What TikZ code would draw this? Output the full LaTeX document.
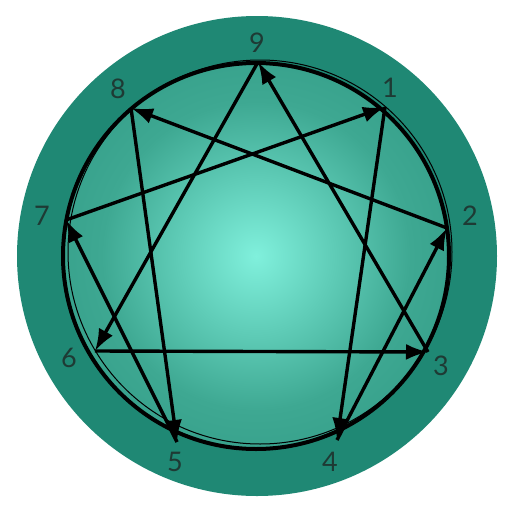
\documentclass[tikz,border=0pt]{standalone}
\usepackage{fontspec}
\setmainfont{Lato}
\usetikzlibrary{arrows.meta}
\definecolor{ringteal}{RGB}{31,136,116}
\definecolor{glowteal}{RGB}{128,240,220}
\definecolor{midteal}{RGB}{62,168,146}
\definecolor{digitgray}{RGB}{30,58,52}
\pgfdeclareradialshading{discglow}{\pgfpoint{0bp}{0bp}}{color(0bp)=(glowteal); color(20bp)=(midteal); color(50bp)=(ringteal)}
\tikzset{
  edge/.style={line width=3.4pt, -{Latex[length=22pt,width=16pt]}},
  digit/.style={text=digitgray, font=\fontsize{27}{27}\selectfont, inner sep=0pt}
}
\begin{document}
\begin{tikzpicture}[x=1pt,y=-1pt]
    \useasboundingbox (0,0) rectangle (512,512);
    \fill[ringteal] (257,256) circle (240);
    \shade[shading=discglow] (256,256) circle (193);
    \draw[line width=4pt] (256,256) circle (193);
    \draw[line width=1pt] (260,252) circle (192);
    % points of the star
    \coordinate (p9) at (258,62);
    \coordinate (p1) at (385,107);
    \coordinate (p2) at (447,228);
    \coordinate (p3) at (428,352);
    \coordinate (p4) at (337,440);
    \coordinate (p5) at (177,442);
    \coordinate (p6) at (95,351);
    \coordinate (p7) at (66,220);
    \coordinate (p8) at (131,108);
    \foreach \a/\b in {1/4, 4/2, 2/8, 8/5, 5/7, 7/1, 9/6, 6/3, 3/9}
        \draw[edge] (p\a) -- (p\b);
    % numbers
    \node[digit] (n9) at (257,43) {9};
    \node[digit] (n1) at (390,88) {1};
    \node[digit] (n2) at (470,216) {2};
    \node[digit] (n3) at (441,366) {3};
    \node[digit] (n4) at (330,462) {4};
    \node[digit] (n5) at (175,462) {5};
    \node[digit] (n6) at (69,358) {6};
    \node[digit] (n7) at (42,216) {7};
    \node[digit] (n8) at (118,89) {8};
\end{tikzpicture}
\end{document}
